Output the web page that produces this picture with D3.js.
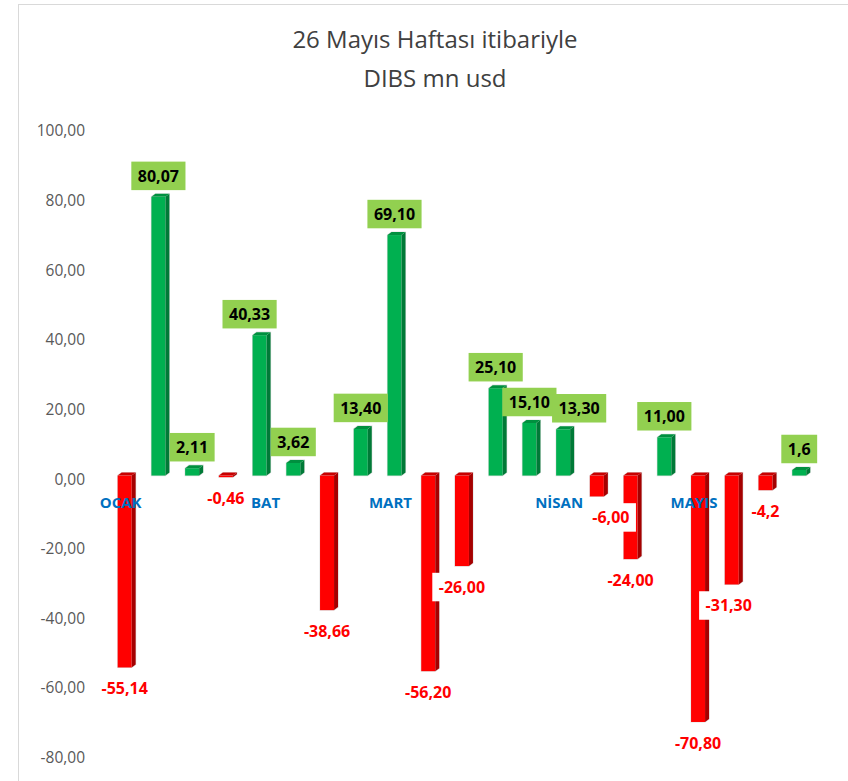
<!DOCTYPE html>
<html><head><meta charset="utf-8">
<script src="https://cdn.jsdelivr.net/npm/d3@7"></script>
<style>body{margin:0;background:#fff} svg{display:block}</style>
</head><body><svg id="c" width="848" height="781"></svg>
<script>
const titleLines = ["26 Mayıs Haftası itibariyle", "DIBS mn usd"];
const categories = ["OCAK","","","","BAT","","","","MART","","","","","NİSAN","","","","MAYIS","","",""];
const values = [-55.14, 80.07, 2.11, -0.46, 40.33, 3.62, -38.66, 13.40, 69.10, -56.20, -26.00, 25.10, 15.10, 13.30, -6.00, -24.00, 11.00, -70.80, -31.30, -4.2, 1.6];
const valueLabels = ["-55,14","80,07","2,11","-0,46","40,33","3,62","-38,66","13,40","69,10","-56,20","-26,00","25,10","15,10","13,30","-6,00","-24,00","11,00","-70,80","-31,30","-4,2","1,6"];
const yTicks = [-80, -60, -40, -20, 0, 20, 40, 60, 80, 100];

const svg = d3.select("#c");
const font = "'Open Sans', 'DejaVu Sans', sans-serif";

// chart border
svg.append("rect").attr("x", 18.5).attr("y", 4.5).attr("width", 900).attr("height", 900)
  .attr("fill", "#fff").attr("stroke", "#d9d9d9").attr("stroke-width", 1);

// title
svg.append("g").selectAll("text").data(titleLines).join("text")
  .attr("x", 435).attr("y", (d, i) => 48 + i * 38.5)
  .attr("text-anchor", "middle").attr("font-family", font).attr("font-size", 24)
  .attr("fill", "#404040").text(d => d);

const y = d3.scaleLinear().domain([-80, 100]).range([757.5, 131]);
const x = d3.scaleBand().domain(d3.range(values.length)).range([107.8, 816.1]).padding(0);

// y axis
const yAxis = svg.append("g").attr("transform", "translate(88,0)")
  .call(d3.axisLeft(y).tickValues(yTicks).tickSize(0).tickPadding(3)
    .tickFormat(d => d.toFixed(2).replace(".", ",")));
yAxis.select(".domain").remove();
yAxis.selectAll("text").attr("font-family", font).attr("font-size", 15.5).attr("fill", "#595959");

// bars (3D look)
const depthX = 4, depthY = 3, shiftY = 3.5, barW = 14;
const yb = v => y(v) - shiftY;
const bars = svg.append("g");
values.forEach((v, i) => {
  const cx = x(i) + x.bandwidth() / 2;
  const x0 = cx - barW / 2, x1 = x0 + barW;
  const top = Math.min(yb(v), yb(0)), bot = Math.max(yb(v), yb(0));
  const pos = v >= 0;
  const front = pos ? "#00B050" : "#FF0000";
  const side = pos ? "#007A37" : "#A50000";
  const topc = pos ? "#00903F" : "#C80000";
  const g = bars.append("g");
  g.append("path").attr("d", `M${x0},${bot}L${x0},${top}L${x0 + depthX},${top - depthY}L${x1 + depthX},${top - depthY}L${x1 + depthX},${bot - depthY}L${x1},${bot}Z`)
    .attr("fill", "none").attr("stroke", "rgba(0,0,0,0.12)").attr("stroke-width", 1.2);
  g.append("rect").attr("x", x0).attr("y", top).attr("width", barW).attr("height", Math.max(bot - top, 0.01)).attr("fill", front);
  g.append("path").attr("d", `M${x1},${top}L${x1 + depthX},${top - depthY}L${x1 + depthX},${bot - depthY}L${x1},${bot}Z`).attr("fill", side);
  g.append("path").attr("d", `M${x0},${top}L${x0 + depthX},${top - depthY}L${x1 + depthX},${top - depthY}L${x1},${top}Z`).attr("fill", topc);
});

// category axis
const categoryShift = {4: 10};
const xAxis = svg.append("g").attr("transform", `translate(-4,${y(0)})`)
  .call(d3.axisBottom(x).tickSize(0).tickFormat(i => categories[i]));
xAxis.select(".domain").remove();
xAxis.selectAll("text").attr("y", 24).attr("dy", "0.35em")
  .attr("x", i => categoryShift[i] || 0)
  .attr("font-family", font).attr("font-size", 15).attr("font-weight", "bold").attr("fill", "#0070C0");

// data labels
const labelShift = {4: -10, 13: 16, 14: 14, 18: -3};
const labels = svg.append("g");
values.forEach((v, i) => {
  const cx = x(i) + x.bandwidth() / 2 + (labelShift[i] || 0);
  const cy = v >= 0 ? yb(v) - 21 : yb(v) + 21;
  const g = labels.append("g");
  const rect = g.append("rect");
  const t = g.append("text").attr("x", cx).attr("y", cy).attr("dy", "0.36em")
    .attr("text-anchor", "middle").attr("font-family", font).attr("font-size", 16)
    .attr("font-weight", "bold").attr("fill", v >= 0 ? "#000" : "#FF0000").text(valueLabels[i]);
  const w = t.node().getComputedTextLength() + 13;
  rect.attr("x", cx - w / 2).attr("y", cy - 14.25).attr("width", w).attr("height", 28.5)
    .attr("fill", v >= 0 ? "#92D050" : "#FFFFFF");
});
</script>
</body></html>
